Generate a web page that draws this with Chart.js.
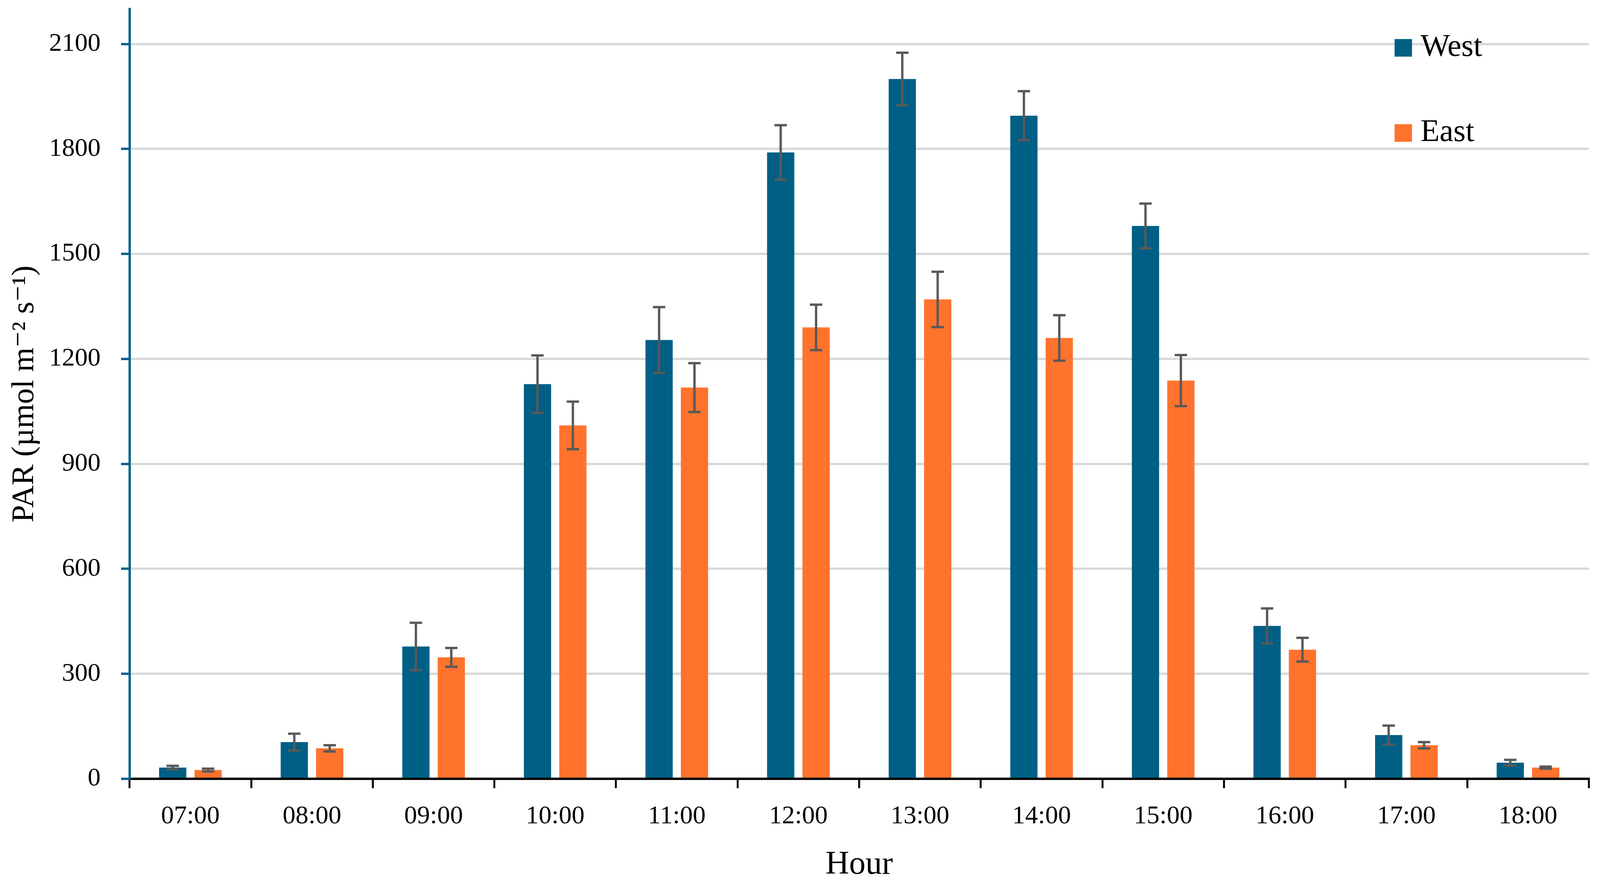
<!DOCTYPE html>
<html>
<head>
<meta charset="utf-8">
<script src="https://cdn.jsdelivr.net/npm/chart.js@4/dist/chart.umd.min.js"></script>
<style>
  html, body { margin: 0; padding: 0; background: #fff; overflow: hidden; }
  canvas { display: block; }
</style>
</head>
<body>
<canvas id="parChart"></canvas>
<script>
// hourly PAR, mean and error per side
const hours = ['07:00', '08:00', '09:00', '10:00', '11:00', '12:00', '13:00', '14:00', '15:00', '16:00', '17:00', '18:00'];
const westPAR = [32, 105, 378, 1128, 1254, 1790, 2000, 1895, 1580, 437, 125, 46];
const westErr = [5, 24, 68, 82, 94, 78, 75, 70, 64, 50, 27, 8];
const eastPAR = [25, 87, 347, 1010, 1118, 1290, 1370, 1260, 1138, 369, 96, 32];
const eastErr = [4, 9, 27, 68, 70, 65, 79, 65, 73, 34, 9, 3];
const yTicks = [0, 300, 600, 900, 1200, 1500, 1800, 2100];

const serif = "'Liberation Serif', 'DejaVu Serif', serif";
const westColor = '#005F85';
const eastColor = '#FF732D';
const axisBlue = '#00618A';

// sizes were measured on the 4136 x 2271 picture, scale them to the real window
const W = window.innerWidth, H = window.innerHeight;
const sx = W / 4136, sy = H / 2271;
const canvas = document.getElementById('parChart');
canvas.width = W;
canvas.height = H;

// error bars on top of each bar
const errorBars = {
  id: 'errorBars',
  afterDatasetsDraw(chart) {
    const ctx = chart.ctx;
    const y = chart.scales.y;
    const cap = 16 * sx;
    ctx.save();
    ctx.strokeStyle = '#595959';
    ctx.lineWidth = 6 * sy;
    chart.data.datasets.forEach((ds, i) => {
      const meta = chart.getDatasetMeta(i);
      meta.data.forEach((bar, j) => {
        const v = ds.data[j], e = ds.errors[j];
        const top = y.getPixelForValue(v + e);
        const bot = y.getPixelForValue(v - e);
        ctx.beginPath();
        ctx.moveTo(bar.x, top); ctx.lineTo(bar.x, bot);
        ctx.moveTo(bar.x - cap, top); ctx.lineTo(bar.x + cap, top);
        ctx.moveTo(bar.x - cap, bot); ctx.lineTo(bar.x + cap, bot);
        ctx.stroke();
      });
    });
    ctx.restore();
  }
};

// legend stacked in the upper right corner
const cornerLegend = {
  id: 'cornerLegend',
  afterDraw(chart) {
    const ctx = chart.ctx;
    const x0 = chart.chartArea.right - 502 * sx;
    ctx.save();
    ctx.font = (80 * sy) + 'px ' + serif;
    ctx.textBaseline = 'alphabetic';
    chart.data.datasets.forEach((ds, i) => {
      const top = (100 + i * 218) * sy;
      ctx.fillStyle = ds.backgroundColor;
      ctx.fillRect(x0, top, 45 * sx, 45 * sy);
      ctx.fillStyle = '#000';
      ctx.fillText(ds.label, x0 + 67 * sx, top + 43 * sy);
    });
    ctx.restore();
  }
};

new Chart(canvas.getContext('2d'), {
  type: 'bar',
  data: {
    labels: hours,
    datasets: [
      { label: 'West', data: westPAR, errors: westErr, backgroundColor: westColor },
      { label: 'East', data: eastPAR, errors: eastErr, backgroundColor: eastColor }
    ]
  },
  options: {
    responsive: false,
    animation: false,
    categoryPercentage: 0.582,
    barPercentage: 0.77,
    layout: { padding: { top: 23 * sy, right: 29 * sx, left: 0, bottom: 0 } },
    plugins: {
      legend: { display: false },
      tooltip: { enabled: false }
    },
    scales: {
      x: {
        grid: { offset: true, drawOnChartArea: false, color: '#000', lineWidth: 5 * sx, tickLength: 24 * sy },
        border: { color: '#000', width: 6 * sy },
        ticks: { color: '#000', font: { family: serif, size: 66 * sy }, padding: 33 * sy, maxRotation: 0 },
        title: { display: true, text: 'Hour', color: '#000', font: { family: serif, size: 84 * sy, lineHeight: 1 }, padding: { top: 0, bottom: 14 * sy } },
        afterFit(scale) {
          scale.height = 277 * sy;
          scale.paddingLeft = 0;
          scale.paddingRight = 0;
        }
      },
      y: {
        min: 0,
        max: 2200,
        afterBuildTicks(scale) { scale.ticks = yTicks.map(v => ({ value: v })); },
        grid: { color: '#D9D9D9', lineWidth: 6 * sy, tickColor: axisBlue, tickLength: 22 * sx, tickWidth: 6 * sy },
        border: { color: axisBlue, width: 6 * sx },
        ticks: {
          color: '#000',
          font: { family: serif, size: 66 * sy },
          padding: 53 * sx,
          callback: v => String(v)
        },
        title: { display: true, text: 'PAR (µmol m⁻² s⁻¹)', color: '#000', font: { family: serif, size: 80 * sy, lineHeight: 1 }, padding: { top: 24 * sx, bottom: 0 } },
        afterFit(scale) {
          scale.width = 335 * sx;
          scale.paddingTop = 0;
          scale.paddingBottom = 0;
        }
      }
    }
  },
  plugins: [errorBars, cornerLegend]
});
</script>
</body>
</html>
